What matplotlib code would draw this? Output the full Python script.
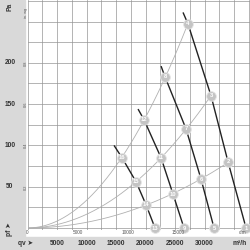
import matplotlib
matplotlib.use("Agg")
import matplotlib.pyplot as plt
import matplotlib.transforms as mtransforms
import numpy as np

plt.rcParams['font.family'] = ['Liberation Sans', 'DejaVu Sans']

# ---- data ----
# fan curves: airflow in m3/h, pressure in Pa; first point is the curve start, then operating points
fan1_q = [26350, 27200, 31100, 33980, 37030]
fan1_p = [261, 247, 160, 80, 0]
fan1_ids = [4, 3, 2, 1]
fan2_q = [22630, 23300, 26860, 29410, 31610]
fan2_p = [196, 183, 120, 59, 0]
fan2_ids = [8, 7, 6, 5]
fan3_q = [18730, 19750, 22630, 24660, 26520]
fan3_p = [144, 131, 85, 41, 0]
fan3_ids = [12, 11, 10, 9]
fan4_q = [14660, 16020, 18390, 20090, 21610]
fan4_p = [100, 85, 56, 28, 0]
fan4_ids = [16, 15, 14, 13]

pa_ticks = [50, 100, 150, 200]
inwg_ticks = [0.2, 0.4, 0.6, 0.8]
m3h_ticks = [5000, 10000, 15000, 20000, 25000, 30000]
cfm_ticks = [0, 5000, 10000, 15000]

# ---- figure ----
W = H = 250
fig = plt.figure(figsize=(2.5, 2.5), dpi=100)
fig.patch.set_facecolor('white')

band = '#d9d9d9'
fig.patches.append(plt.Rectangle((0, 0), 25 / W, 1, transform=fig.transFigure,
                                 color=band, zorder=0))
fig.patches.append(plt.Rectangle((0, 0), 1, 13 / H, transform=fig.transFigure,
                                 color=band, zorder=0))

y0px = 228.0          # pixel row of 0 Pa
pxpa = 0.826          # pixels per Pa
ybot = -3.0
ytop = y0px / pxpa
ax_bottom_px = y0px - ybot * pxpa
ax = fig.add_axes([27.5 / W, (H - ax_bottom_px) / H, 1 - 27.5 / W, ax_bottom_px / H])
ax.set_xlim(0, 37700)
ax.set_ylim(ybot, ytop)
ax.set_facecolor('none')
for s in ax.spines.values():
    s.set_visible(False)
ax.set_xticks([])
ax.set_yticks([])

gcol = '#959595'
for q in np.arange(0, 37600, 2500):
    ax.axvline(q, color=gcol, lw=0.5, zorder=1)
for p in np.arange(0, 280, 25):
    ax.axhline(p, color=gcol, lw=0.5, zorder=1)

fans = [(fan1_q, fan1_p, fan1_ids), (fan2_q, fan2_p, fan2_ids),
        (fan3_q, fan3_p, fan3_ids), (fan4_q, fan4_p, fan4_ids)]

# system curves: parabolas through origin and the operating points of each row
for row in range(3):
    qs = np.array([f[0][row + 1] for f in fans])
    ps = np.array([f[1][row + 1] for f in fans])
    k = np.sum(ps * qs ** 2) / np.sum(qs ** 4)
    qq = np.linspace(0, qs.max(), 200)
    ax.plot(qq, k * qq ** 2, color='#b0b0b0', lw=0.6, zorder=2)

circ = '#c4c4c4'
for fq, fp, ids in fans:
    ax.plot(fq, fp, color='#222222', lw=1.0, zorder=3, solid_capstyle='butt')
    for q, p, n in zip(fq[1:], fp[1:], ids):
        ax.plot(q, p, 'o', ms=7, mfc=circ, mec='#e6e6e6', mew=0.6, zorder=4,
                clip_on=False)
        ax.text(q, p, str(n), color='white', fontsize=4.2, fontweight='bold',
                ha='center', va='center', zorder=5, clip_on=False)

# left Pa labels
tr_l = mtransforms.blended_transform_factory(fig.transFigure, ax.transData)
for p in pa_ticks:
    fig.text(10 / W, p, str(p), transform=tr_l, ha='center', va='center',
             fontsize=4.8, fontweight='bold', color='#333333')
fig.text(9.5 / W, 1 - 6.5 / H, 'Pa', rotation=90, ha='center', va='center',
         fontsize=4.8, fontweight='bold', color='#333333')
fig.text(9.5 / W, 1 - 229 / H, 'pf ➤', rotation=90, ha='center', va='center',
         fontsize=4.8, fontweight='bold', color='#333333')

# inch water gauge labels
for w in inwg_ticks:
    fig.text(26 / W, w * 249.09, f'{w:.1f}', transform=tr_l, rotation=90,
             ha='center', va='center', fontsize=2.8, color='#555555')
fig.text(26 / W, 1 - 13 / H, 'in. wg', rotation=90, ha='center', va='center',
         fontsize=2.8, color='#555555')

# bottom m3/h labels
tr_b = mtransforms.blended_transform_factory(ax.transData, fig.transFigure)
for q in m3h_ticks:
    fig.text(q, 1 - 243.5 / H, str(q), transform=tr_b, ha='center', va='center',
             fontsize=4.8, fontweight='bold', color='#333333')
fig.text(240 / W, 1 - 243.5 / H, 'm³/h', ha='center', va='center',
         fontsize=4.8, fontweight='bold', color='#333333')
fig.text(25 / W, 1 - 243.5 / H, 'qv ➤', ha='center', va='center',
         fontsize=4.8, fontweight='bold', color='#333333')

# inner cfm labels
for c in cfm_ticks:
    fig.text(c / 0.5886, 1 - 233 / H, str(c), transform=tr_b, ha='center',
             va='center', fontsize=3.4, color='#555555')
fig.text(243 / W, 1 - 233 / H, 'cfm', ha='center', va='center',
         fontsize=3.4, color='#555555')

fig.savefig('out.png', dpi=100)
